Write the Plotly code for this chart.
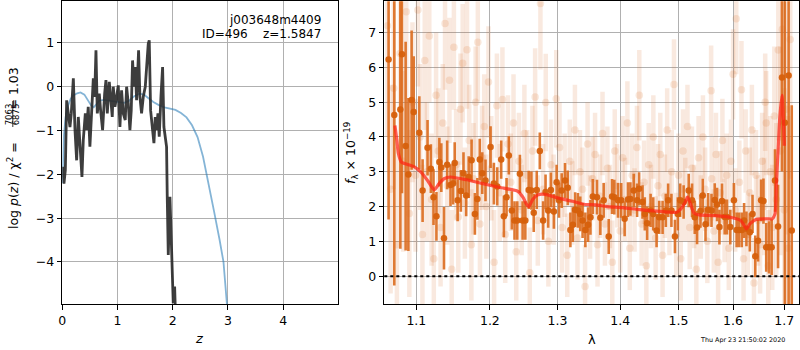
import plotly.graph_objects as go

# ---------------- left panel: log p(z) ----------------
z_pz = [0.0, 0.007, 0.03, 0.055, 0.079, 0.115, 0.139, 0.163, 0.2, 0.23, 0.26, 0.29, 0.32, 0.356,
        0.38, 0.417, 0.44, 0.47, 0.5, 0.531, 0.562, 0.586, 0.61, 0.634, 0.67, 0.694, 0.73, 0.767,
        0.791, 0.815, 0.851, 0.875, 0.905, 0.923, 0.954, 0.984, 1.014, 1.044, 1.074, 1.104, 1.14,
        1.165, 1.195, 1.225, 1.249, 1.273, 1.297, 1.322, 1.346, 1.382, 1.406, 1.436, 1.467, 1.503,
        1.527, 1.557, 1.575, 1.6, 1.636, 1.66, 1.684, 1.708, 1.732, 1.756, 1.787, 1.817, 1.841,
        1.865, 1.889, 1.901, 1.92, 1.95, 1.98, 2.01, 2.035, 2.05, 2.08, 2.2]
logp_pz = [-1.9, -1.83, -2.21, -1.9, -0.31, -0.69, -0.92, -0.61, 0.19, -0.99, -1.68, -0.69, -1.37, -2.06,
           -1.22, -0.61, -0.99, -0.46, -1.37, -0.61, 0.19, -0.23, 0.83, -0.61, -0.16, -0.54, -0.99, -0.16,
           0.15, -0.61, 0.11, -0.23, -0.69, 0.0, -0.46, -0.23, 0.03, -0.92, -0.08, -0.61, -0.76,
           0.0, -0.38, -0.99, -0.54, 0.6, 0.0, 0.45, -0.31, 0.83, -0.23, -0.61, -0.23, 0.0,
           0.45, 0.98, 1.06, -0.54, -0.99, -1.29, -0.69, -0.99, -0.61, -1.14, -0.23, 0.45, -0.92,
           -1.22, -1.37, -2.51, -3.84, -2.51, -3.99, -4.94, -4.56, -5.5, -6.5, -9.0]

z_tpl = [0.0, 0.01, 0.03, 0.06, 0.1, 0.15, 0.2, 0.27, 0.33, 0.4, 0.46, 0.52, 0.57, 0.62, 0.67, 0.75,
         0.85, 0.95, 1.05, 1.12, 1.2, 1.3, 1.4, 1.48, 1.55, 1.65, 1.75, 1.85, 1.95, 2.05, 2.15, 2.25,
         2.35, 2.45, 2.55, 2.65, 2.75, 2.85, 2.92, 2.98, 3.02]
logp_tpl = [-2.2, -1.6, -1.1, -0.7, -0.45, -0.28, -0.2, -0.15, -0.13, -0.18, -0.3, -0.42, -0.47, -0.4,
            -0.32, -0.3, -0.32, -0.34, -0.36, -0.37, -0.33, -0.22, -0.16, -0.18, -0.25, -0.35, -0.42,
            -0.47, -0.5, -0.53, -0.6, -0.7, -0.88, -1.15, -1.6, -2.2, -2.85, -3.5, -4.0, -4.93, -5.6]

left_xticks = [0, 1, 2, 3, 4]
left_yticks = [-4, -3, -2, -1, 0, 1]

# ---------------- right panel: spectrum ----------------
# unbinned pixels (faint)
wave_pix = [1.063, 1.067, 1.071, 1.075, 1.079, 1.083, 1.087, 1.091, 1.095, 1.099,
            1.102, 1.105, 1.108, 1.111, 1.114, 1.117, 1.120, 1.123, 1.126, 1.129, 1.132, 1.135,
            1.138, 1.141, 1.144, 1.147, 1.150, 1.153, 1.156, 1.159, 1.162, 1.165, 1.168, 1.171,
            1.174, 1.177, 1.180, 1.183, 1.186, 1.189, 1.192, 1.195, 1.198,
            1.202, 1.206, 1.210, 1.214, 1.218, 1.222, 1.226, 1.230, 1.234, 1.238, 1.242, 1.246,
            1.250, 1.254, 1.258, 1.262, 1.266, 1.270, 1.274, 1.278, 1.282, 1.286, 1.290, 1.294, 1.298,
            1.303, 1.307, 1.311, 1.315, 1.319, 1.323, 1.327, 1.331, 1.335, 1.339, 1.343, 1.347,
            1.351, 1.355, 1.359, 1.363, 1.367, 1.371, 1.375, 1.379, 1.383, 1.387, 1.391, 1.395,
            1.400, 1.404, 1.408, 1.412, 1.416, 1.420, 1.424, 1.428, 1.432, 1.436, 1.440, 1.444,
            1.448, 1.452, 1.456, 1.460, 1.464, 1.468, 1.472, 1.476, 1.480, 1.484, 1.488, 1.492, 1.496,
            1.500, 1.504, 1.508, 1.512, 1.516, 1.520, 1.524, 1.528, 1.532, 1.536, 1.540, 1.544,
            1.548, 1.552, 1.559, 1.560, 1.564, 1.568, 1.572, 1.576, 1.580, 1.584, 1.588, 1.592, 1.596,
            1.600, 1.604, 1.606, 1.612, 1.616, 1.620, 1.624, 1.628, 1.632, 1.636, 1.640, 1.644,
            1.648, 1.652, 1.656, 1.660, 1.662, 1.664, 1.668, 1.672, 1.676, 1.680, 1.684, 1.688,
            1.692, 1.696, 1.700, 1.704, 1.708, 1.712]
flux_pix = [7.2, 2.5, 5.4, 0.9, 6.4, 3.3, 7.6, 1.8, 5.0, 2.9,
            7.65, 4.0, 1.2, 6.2, 3.0, 6.9, 2.2, 0.5, 5.2, 3.6, 1.4, 4.4,
            7.26, 2.6, 5.63, 0.2, 6.58, 3.2, 1.7, 4.8, 6.12, 2.1, 6.51, 3.9,
            0.9, 2.8, 5.0, 6.72, 1.5, 3.4, 4.3, 2.0, 5.58,
            3.1, 0.4, 4.9, 2.4, 5.08, 1.2, 3.8, 2.7, 4.4, 0.7, 3.3, 1.9,
            4.1, 2.9, 0.1, 3.6, 5.15, 1.6, 7.84, 2.5, 4.99, 1.0, 3.2, 2.2, 5.1,
            3.7, 1.4, 2.9, 0.6, 3.3, 2.1, 4.2, 1.1, 3.0, 2.5, -0.3, 3.8,
            1.7, 2.8, 3.5, 0.9, 2.3, 4.1, 1.5, 3.1, 2.0, 0.4, 3.6, 2.6,
            1.3, 3.4, 2.2, 4.4, 0.8, 2.9, 1.9, 3.7, 5.2, 1.5, 2.7, 0.3,
            3.2, 2.0, 4.0, 1.1, 2.6, 3.5, 0.6, 2.3, 4.2, 1.8, 3.0, 5.51, 1.2,
            2.9, 0.5, 3.6, 2.2, 4.3, 1.4, 3.1, 2.0, 0.2, 3.4, 1.7, 4.0,
            2.5, 1.0, 5.33, 2.8, 1.3, 3.5, 0.4, 2.4, 3.9, 1.6, 2.9, 0.8, 3.3,
            5.8, 1.9, 7.4, 2.7, 5.36, 0.5, 3.6, 1.2, 2.4, 4.2, -0.2, 2.9,
            1.6, 0.9, 3.3, 2.0, 5.0, 4.4, 0.3, 3.0, 1.4, 4.6, 2.2, 6.5,
            3.6, 7.1, 1.9, 4.8, 0.8, 6.8]
err_pix = [3.2, 3.0, 2.9, 2.8, 2.7, 2.6, 2.5, 2.4, 2.3, 2.2,
           2.2, 2.1, 2.0, 2.0, 2.0, 1.9, 1.9, 1.8, 1.8, 1.8, 1.7, 1.7,
           1.9, 1.7, 1.8, 1.7, 1.8, 1.6, 1.6, 1.6, 1.7, 1.6, 1.7, 1.6,
           1.6, 1.6, 1.6, 1.7, 1.5, 1.5, 1.5, 1.5, 1.6,
           1.5, 1.5, 1.5, 1.4, 1.5, 1.4, 1.4, 1.4, 1.4, 1.4, 1.4, 1.3,
           1.4, 1.3, 1.3, 1.3, 1.4, 1.3, 1.9, 1.3, 1.4, 1.3, 1.3, 1.3, 1.4,
           1.3, 1.3, 1.2, 1.2, 1.2, 1.2, 1.3, 1.2, 1.2, 1.2, 1.2, 1.2,
           1.2, 1.2, 1.2, 1.2, 1.2, 1.2, 1.2, 1.2, 1.2, 1.2, 1.2, 1.2,
           1.2, 1.2, 1.2, 1.2, 1.2, 1.2, 1.2, 1.2, 1.3, 1.2, 1.2, 1.2,
           1.2, 1.2, 1.2, 1.2, 1.2, 1.2, 1.2, 1.2, 1.2, 1.2, 1.2, 1.3, 1.2,
           1.2, 1.2, 1.2, 1.2, 1.2, 1.2, 1.2, 1.2, 1.2, 1.2, 1.2, 1.2,
           1.2, 1.2, 1.3, 1.2, 1.2, 1.2, 1.2, 1.2, 1.2, 1.2, 1.2, 1.2, 1.2,
           1.3, 1.2, 1.6, 1.2, 1.4, 1.2, 1.2, 1.2, 1.3, 1.3, 1.3, 1.3,
           1.3, 1.4, 1.4, 1.4, 1.4, 1.5, 1.6, 1.6, 1.8, 2.0, 2.2, 2.6,
           3.0, 3.2, 3.5, 3.6, 3.8, 4.0]

# binned spectrum (dark points)
wave_bin = [1.0645, 1.0717, 1.0794, 1.0815, 1.0862, 1.0897, 1.0939, 1.0966, 1.1039, 1.1082,
            1.1147, 1.1191, 1.1226, 1.1265, 1.1304, 1.1330, 1.1366, 1.1409, 1.1454, 1.1489,
            1.1511, 1.1551, 1.1595, 1.1631, 1.1668, 1.1703, 1.1743, 1.1789, 1.1824, 1.1857,
            1.1892, 1.1938, 1.2010, 1.2057, 1.2105, 1.2162, 1.2200, 1.2239, 1.2272, 1.2316,
            1.2355, 1.2395, 1.2434, 1.2474, 1.2514, 1.2564, 1.2604, 1.2639, 1.2684, 1.2730,
            1.2780, 1.2817, 1.2857, 1.2898, 1.2944, 1.2986, 1.3022, 1.3064, 1.3116, 1.3158,
            1.3199, 1.3237, 1.3274, 1.3317, 1.3354, 1.3391, 1.3435, 1.3478, 1.3516, 1.3554,
            1.3621, 1.3675, 1.3729, 1.3811, 1.3866, 1.3903, 1.3964, 1.4017, 1.4074, 1.4130,
            1.4170, 1.4226, 1.4283, 1.4317, 1.4375, 1.4414, 1.4454, 1.4513, 1.4558, 1.4616,
            1.4662, 1.4720, 1.4777, 1.4817, 1.4875, 1.4937, 1.4988, 1.5030, 1.5091, 1.5182,
            1.5242, 1.5291, 1.5333, 1.5395, 1.5437, 1.5487, 1.5535, 1.5597, 1.5657, 1.5700,
            1.5744, 1.5792, 1.5842, 1.5885, 1.5948, 1.6016, 1.6068, 1.6113, 1.6165, 1.6210,
            1.6255, 1.6321, 1.6373, 1.6426, 1.6480, 1.6540, 1.6586, 1.6640, 1.6693, 1.6747,
            1.6814, 1.6875, 1.6953, 1.7010, 1.7087, 1.7150]
flux_bin = [6.23, 4.63, 4.79, 6.38, 3.74, 2.92, 5.06, 4.72, 4.12, 2.46,
            3.69, 3.09, 2.27, 1.72, 3.28, 3.12, 1.09, 3.20, 2.62, 2.66,
            3.25, 2.18, 2.45, 2.96, 2.32, 2.85, 3.33, 1.79, 2.22, 3.35,
            2.96, 2.75, 3.71, 2.66, 2.58, 3.35, 1.72, 2.27, 3.47, 1.89,
            1.60, 1.60, 2.94, 1.60, 1.60, 2.48, 2.46, 1.82, 2.48, 3.60,
            1.60, 2.42, 1.89, 2.48, 1.86, 2.70, 2.18, 2.46, 2.75, 2.54,
            1.33, 1.48, 1.91, 1.89, 1.79, 1.60, 1.33, 1.48, 1.69, 2.29,
            2.27, 1.68, 2.18, 1.14, 2.29, 2.27, 2.18, 2.18, 1.65, 2.20,
            2.22, 2.46, 2.18, 2.51, 2.13, 1.79, 1.52, 1.89, 1.79, 1.31,
            1.69, 1.69, 1.89, 2.18, 1.89, 1.14, 1.79, 2.18, 2.13, 2.46,
            2.18, 1.69, 1.40, 1.87, 2.32, 1.49, 1.91, 1.89, 2.19, 2.06,
            1.41, 2.16, 1.70, 1.70, 1.41, 2.18, 1.33, 1.33, 1.33, 1.60,
            1.36, 1.26, 1.79, 0.57, 1.02, 2.18, 2.16, 0.83, 0.83, 0.83,
            2.75, 1.43, 5.71, 4.41, 5.77, 1.31]
err_bin = [4.6, 4.9, 4.0, 4.0, 3.0, 2.2, 2.0, 1.6, 1.05, 0.9,
           0.8, 0.7, 0.8, 0.7, 0.7, 0.7, 0.9, 0.7, 0.6, 0.6,
           0.6, 0.6, 0.6, 0.6, 0.6, 0.6, 0.6, 0.6, 0.6, 0.6,
           0.6, 0.6, 0.6, 0.6, 0.55, 0.55, 0.6, 0.55, 0.55, 0.55,
           0.55, 0.55, 0.55, 0.55, 0.55, 0.55, 0.55, 0.55, 0.55, 0.53,
           0.55, 0.5, 0.5, 0.5, 0.5, 0.5, 0.5, 0.5, 0.5, 0.5,
           0.5, 0.5, 0.5, 0.5, 0.5, 0.5, 0.5, 0.5, 0.5, 0.5,
           0.5, 0.5, 0.5, 0.5, 0.5, 0.5, 0.5, 0.5, 0.5, 0.5,
           0.48, 0.48, 0.48, 0.48, 0.48, 0.48, 0.48, 0.48, 0.48, 0.48,
           0.48, 0.48, 0.48, 0.48, 0.48, 0.48, 0.48, 0.48, 0.48, 0.48,
           0.48, 0.48, 0.48, 0.48, 0.48, 0.48, 0.48, 0.48, 0.48, 0.48,
           0.5, 0.5, 0.5, 0.5, 0.5, 0.5, 0.5, 0.5, 0.5, 0.5,
           0.5, 0.55, 0.55, 0.6, 0.6, 0.6, 0.65, 0.7, 0.75, 0.8,
           0.9, 1.2, 2.7, 5.5, 6.7, 3.6]

# model
wave_model = [1.0725, 1.0750, 1.0770, 1.0807, 1.0888, 1.0974, 1.1060, 1.1147, 1.1235, 1.1300,
              1.1366, 1.1454, 1.1675, 1.1901, 1.2162, 1.2404, 1.2478, 1.2528, 1.2564, 1.2628,
              1.2704, 1.2806, 1.3000, 1.3211, 1.3435, 1.3596, 1.3785, 1.4045, 1.4329, 1.4616,
              1.4971, 1.5046, 1.5120, 1.5161, 1.5203, 1.5279, 1.5369, 1.5670, 1.5986, 1.6146,
              1.6210, 1.6255, 1.6321, 1.6440, 1.6640, 1.6760, 1.6814, 1.6842, 1.6875, 1.6910,
              1.6953, 1.6985, 1.7000]
flux_model = [4.33, 3.90, 3.52, 3.28, 3.21, 3.14, 2.99, 2.75, 2.48, 2.66,
              2.80, 2.85, 2.77, 2.66, 2.54, 2.44, 2.27, 2.08, 2.00, 2.22,
              2.34, 2.35, 2.25, 2.16, 2.06, 2.05, 2.00, 1.97, 1.91, 1.87,
              1.84, 1.94, 2.13, 2.27, 2.13, 1.81, 1.76, 1.74, 1.68, 1.60,
              1.46, 1.36, 1.50, 1.63, 1.65, 1.65, 1.79, 2.66, 3.61, 4.57,
              5.20, 4.40, 3.75]

right_xticks = [1.1, 1.2, 1.3, 1.4, 1.5, 1.6, 1.7]
right_yticks = [0, 1, 2, 3, 4, 5, 6, 7]

FONT = "DejaVu Sans"
W, H = 800, 350


def px(x):
    return x / W


def py(y):
    return 1 - y / H


fig = go.Figure()

fig.add_trace(go.Scatter(x=z_tpl, y=logp_tpl, mode="lines", xaxis="x", yaxis="y",
                         line=dict(color="rgba(31,119,180,0.55)", width=1.8)))
fig.add_trace(go.Scatter(x=z_pz, y=logp_pz, mode="lines", xaxis="x", yaxis="y",
                         line=dict(color="rgba(40,40,40,0.9)", width=2.8)))

fig.add_trace(go.Scatter(x=wave_pix, y=flux_pix, mode="markers", xaxis="x2", yaxis="y2",
                         marker=dict(color="rgba(215,110,40,0.16)", size=7.5, line=dict(width=0)),
                         error_y=dict(type="data", array=err_pix, visible=True, width=0,
                                      thickness=4.5, color="rgba(215,110,40,0.15)")))
fig.add_trace(go.Scatter(x=wave_bin, y=flux_bin, mode="markers", xaxis="x2", yaxis="y2",
                         marker=dict(color="rgba(214,96,12,0.95)", size=6.5, line=dict(width=0)),
                         error_y=dict(type="data", array=err_bin, visible=True, width=0,
                                      thickness=2.6, color="rgba(220,108,30,0.9)")))
fig.add_trace(go.Scatter(x=wave_model, y=flux_model, mode="lines", xaxis="x2", yaxis="y2",
                         line=dict(color="rgba(255,35,20,0.72)", width=3.2, shape="spline",
                                   smoothing=0.6)))

axis_common = dict(showline=True, linecolor="black", linewidth=1, mirror=True,
                   ticks="outside", ticklen=4.5, tickwidth=0.8, tickcolor="black",
                   showgrid=True, gridcolor="#b0b0b0", gridwidth=0.8, zeroline=False,
                   automargin=False,
                   tickfont=dict(family=FONT, size=12.5, color="black"))

ydom = [py(304), py(1.3)]


def fmt(v):
    s = ("%g" % v)
    return s.replace("-", "\u2212")


fig.update_layout(
    width=W, height=H, margin=dict(l=0, r=0, t=0, b=0, autoexpand=False),
    paper_bgcolor="white", plot_bgcolor="white", showlegend=False,
    font=dict(family=FONT, size=12.5, color="black"),
    xaxis=dict(domain=[px(62.3), px(338.3)], range=[0, 5], anchor="y",
               tickvals=left_xticks, ticktext=[fmt(v) for v in left_xticks], **axis_common),
    yaxis=dict(domain=ydom, range=[-4.96, 1.95], anchor="x",
               tickvals=left_yticks, ticktext=[fmt(v) for v in left_yticks], **axis_common),
    xaxis2=dict(domain=[px(384.3), px(799.3)], type="log", range=[0.02494, 0.23815], anchor="y2",
                tickvals=right_xticks, ticktext=[fmt(v) for v in right_xticks], **axis_common),
    yaxis2=dict(domain=ydom, range=[-0.8, 7.9], anchor="x2",
                tickvals=right_yticks, ticktext=[fmt(v) for v in right_yticks], **axis_common),
)

# zero line in the spectrum panel
fig.add_shape(type="line", xref="x2 domain", x0=0, x1=1, yref="y2", y0=0, y1=0,
              line=dict(color="black", width=2, dash="dot"))

ann = []
# left panel header text
ann.append(dict(text="j003648m4409", x=px(323), y=py(19.5), xanchor="right", yanchor="middle",
                font=dict(size=12)))
ann.append(dict(text="ID=496\u00a0\u00a0\u00a0\u00a0z=1.5847", x=px(323), y=py(34.5), xanchor="right",
                yanchor="middle", font=dict(size=12)))
# axis labels
ann.append(dict(text="<i>z</i>", x=px(199), y=py(338), xanchor="center", yanchor="middle",
                font=dict(size=13)))
ann.append(dict(text="λ", x=px(592), y=py(339), xanchor="center", yanchor="middle",
                font=dict(size=13)))
ann.append(dict(text="<i>f</i><sub>λ</sub> × 10<sup>−19</sup>", x=px(351), y=py(153),
                xanchor="center", yanchor="middle", textangle=-90, font=dict(size=12.5)))
# left y label pieces
ann.append(dict(text="log <i>p</i>(<i>z</i>) / χ<sup>2</sup> =", x=px(12.5), y=py(231),
                xanchor="center", yanchor="bottom", textangle=-90, font=dict(size=12.5)))
ann.append(dict(text="7063", x=px(9.3), y=py(114), xanchor="center", yanchor="middle",
                textangle=-90, font=dict(size=8.5)))
ann.append(dict(text="6875", x=px(16.3), y=py(114), xanchor="center", yanchor="middle",
                textangle=-90, font=dict(size=8.5)))
ann.append(dict(text="= 1.03", x=px(12.5), y=py(66), xanchor="center", yanchor="top",
                textangle=-90, font=dict(size=12.5)))
# timestamp
ann.append(dict(text="Thu Apr 23 21:50:02 2020", x=px(742), y=py(339.5), xanchor="center",
                yanchor="middle", font=dict(size=6.4, color="black")))
for a in ann:
    a.update(xref="paper", yref="paper", showarrow=False)
    fig.add_annotation(**a)

# fraction bar
fig.add_shape(type="line", xref="paper", yref="paper", x0=px(12.8), x1=px(12.8),
              y0=py(101), y1=py(127), line=dict(color="black", width=0.8))

fig.write_html("out.html", config={"displayModeBar": False},
               post_script="document.body.style.margin='0px';document.body.style.overflow='hidden';")
